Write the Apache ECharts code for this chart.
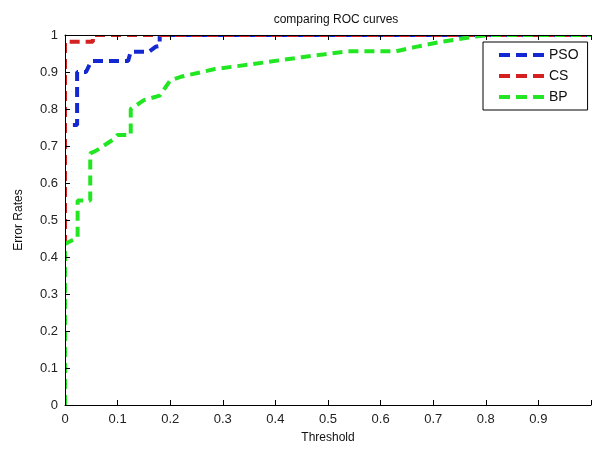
<!DOCTYPE html>
<html>
<head>
<meta charset="utf-8">
<script src="https://cdn.jsdelivr.net/npm/echarts@6/dist/echarts.min.js"></script>
<style>
  html, body { margin: 0; padding: 0; background: #fff; }
  #roc-chart { width: 594px; height: 459px; }
</style>
</head>
<body>
<div id="roc-chart"></div>
<script>
// values: [threshold, rate]
var psoPoints = [[0, 0], [0, 0.757], [0.023, 0.757], [0.023, 0.9], [0.04, 0.9], [0.05, 0.93],
    [0.12, 0.93], [0.125, 0.955], [0.16, 0.955], [0.172, 0.968], [0.18, 0.97], [0.18, 1], [1, 1]];

var csPoints = [[0, 0], [0, 0.982], [0.053, 0.982], [0.053, 1], [1, 1]];

var bpPoints = [[0, 0], [0, 0.435], [0.006, 0.44], [0.024, 0.452], [0.024, 0.553], [0.048, 0.553],
    [0.048, 0.68], [0.06, 0.688], [0.094, 0.72], [0.1, 0.73], [0.125, 0.73], [0.125, 0.8],
    [0.15, 0.824], [0.18, 0.836], [0.2, 0.877], [0.22, 0.887], [0.285, 0.908], [0.35, 0.92],
    [0.41, 0.932], [0.45, 0.94], [0.49, 0.947], [0.536, 0.956], [0.63, 0.956], [0.667, 0.968],
    [0.717, 0.982], [0.78, 0.996], [0.81, 1], [1, 1]];

var seriesNames = ['PSO', 'CS', 'BP'];
var seriesColors = ['#1428d2', '#d42020', '#22e622'];

var rocChart = echarts.init(document.getElementById('roc-chart'));

renderRocChart();

function renderRocChart() {
    var font = 'Liberation Sans, Arial, sans-serif';
    var dash = [10, 6];
    var plotLeft = 65, plotTop = 35;

    var option = {
        backgroundColor: '#fff',
        animation: false,
        title: {
            text: 'comparing ROC curves',
            left: 331,
            top: 9,
            textAlign: 'center',
            z: 20,
            textStyle: { fontFamily: font, fontSize: 12, fontWeight: 'normal', color: '#111' }
        },
        // white masks so the thick lines get clipped at the box edge, like matlab
        graphic: [
            { type: 'rect', z: 5, silent: true, shape: { x: 0, y: 0, width: plotLeft, height: 459 }, style: { fill: '#fff' } },
            { type: 'rect', z: 5, silent: true, shape: { x: 0, y: 0, width: 594, height: plotTop }, style: { fill: '#fff' } }
        ],
        grid: { left: plotLeft, top: plotTop, width: 532, height: 370 },
        legend: {
            data: seriesNames,
            orient: 'vertical',
            left: 483,
            top: 42,
            z: 20,
            padding: [6, 9, 6, 14],
            itemGap: 7,
            itemWidth: 45,
            itemHeight: 14,
            backgroundColor: '#fff',
            borderColor: '#000',
            borderWidth: 1,
            borderRadius: 0,
            itemStyle: { opacity: 0 },
            lineStyle: { width: 4, type: [11, 6] },
            textStyle: { fontFamily: font, fontSize: 14, color: '#111' }
        },
        xAxis: [{
            type: 'value',
            min: 0,
            max: 1,
            interval: 0.1,
            z: 10,
            name: 'Threshold',
            nameLocation: 'middle',
            nameGap: 27,
            nameTextStyle: { fontFamily: font, fontSize: 12, color: '#111' },
            axisLine: { lineStyle: { color: '#000' } },
            axisTick: { inside: true, length: 5, lineStyle: { color: '#000' } },
            axisLabel: {
                margin: 8, fontFamily: font, fontSize: 13, color: '#222',
                formatter: function (v) { return v >= 1 ? '' : String(v); }
            },
            splitLine: { show: false }
        }, {
            type: 'value',
            position: 'top',
            min: 0,
            max: 1,
            interval: 0.1,
            z: 10,
            axisLine: { lineStyle: { color: '#000' } },
            axisTick: { inside: true, length: 5, lineStyle: { color: '#000' } },
            axisLabel: { show: false },
            splitLine: { show: false }
        }],
        yAxis: [{
            type: 'value',
            min: 0,
            max: 1,
            interval: 0.1,
            z: 10,
            name: 'Error Rates',
            nameLocation: 'middle',
            nameGap: 40,
            nameTextStyle: { fontFamily: font, fontSize: 12, color: '#111' },
            axisLine: { show: true, lineStyle: { color: '#000' } },
            axisTick: { show: true, inside: true, length: 5, lineStyle: { color: '#000' } },
            axisLabel: { margin: 7, fontFamily: font, fontSize: 13, color: '#222' },
            splitLine: { show: false }
        }],
        series: [psoPoints, csPoints, bpPoints].map(function (points, i) {
            return {
                name: seriesNames[i],
                type: 'line',
                data: points,
                showSymbol: false,
                symbol: 'none',
                color: seriesColors[i],
                lineStyle: { color: seriesColors[i], width: 4, type: dash }
            };
        })
    };

    rocChart.setOption(option);
}
</script>
</body>
</html>
